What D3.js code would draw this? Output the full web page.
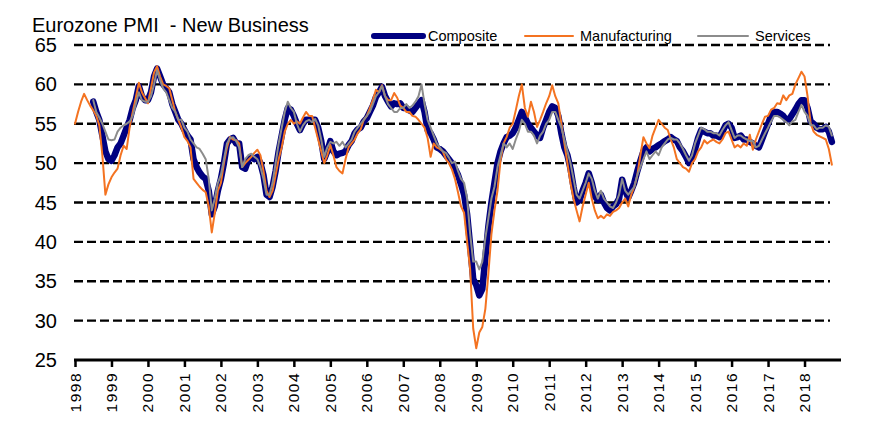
<!DOCTYPE html>
<html>
<head>
<meta charset="utf-8">
<script src="https://cdn.jsdelivr.net/npm/d3@7"></script>
<style>
  html, body { margin: 0; padding: 0; background: #fff; }
  text { font-family: "Liberation Sans", Arial, sans-serif; fill: #000; }
</style>
</head>
<body>
<svg id="chart" width="885" height="425"></svg>
<script>
// ---- data (monthly index readings) ----
const title = "Eurozone PMI  - New Business";
const seriesNames = ["Composite", "Manufacturing", "Services"];
const yearTicks = d3.range(1998, 2019);
const yTicks = [25, 30, 35, 40, 45, 50, 55, 60, 65];

// Composite: Jul 1998 .. Oct 2018
const compositeStart = [1998, 7];
const composite = [
  57.8, 56.5, 55.5, 53.5, 51.5, 50.5,
  50.3, 51.0, 52.0, 52.5, 53.5, 54.5, 55.5, 57.0, 58.0, 59.8, 58.5, 58.0,
  58.0, 59.0, 61.0, 62.0, 61.0, 60.0, 59.5, 59.0, 57.5, 56.5, 55.5, 55.0,
  54.2, 53.5, 53.0, 50.5, 49.5, 48.8, 48.3, 48.0, 46.5, 43.5, 44.5, 46.5,
  48.0, 50.0, 52.5, 53.0, 53.2, 52.5, 52.5, 49.5, 49.3, 50.4, 50.8, 50.5,
  50.8, 50.0, 48.5, 46.0, 45.7, 47.0, 49.0, 51.5, 53.5, 55.5, 57.0, 56.8,
  56.0, 55.0, 54.2, 55.0, 55.5, 55.5, 55.5, 55.5, 54.5, 52.8, 50.5, 51.5,
  52.8, 51.5, 51.0, 51.2, 51.3, 51.5, 52.3, 52.8, 53.8, 54.3, 54.5, 55.3,
  55.7, 56.5, 57.3, 58.4, 59.0, 59.7, 58.5, 57.8, 57.2, 57.6, 57.5, 57.6,
  57.0, 57.0, 56.7, 56.5, 57.0, 57.5, 58.0, 56.5, 54.2, 53.8, 53.0, 52.0,
  51.8, 51.5, 51.0, 50.5, 50.0, 49.3, 48.5, 47.3, 46.0, 43.5, 39.5, 35.3,
  34.5, 33.2, 34.0, 38.0, 42.0, 45.0, 47.5, 50.0, 51.5, 52.5, 53.3, 53.5,
  53.8, 54.5, 55.5, 56.5, 55.8, 55.0, 54.5, 54.0, 53.5, 53.2, 54.5, 55.5,
  56.5, 57.2, 57.0, 56.0, 53.8, 52.0, 51.0, 49.3, 47.0, 45.0, 45.3, 46.5,
  47.5, 48.7, 47.5, 45.8, 45.3, 46.0, 45.0, 44.3, 44.0, 44.5, 44.8, 45.5,
  47.9, 46.5, 45.6, 46.5, 47.5, 49.0, 50.3, 51.5, 52.0, 51.5, 51.8, 52.0,
  52.3, 52.5, 52.8, 53.0, 53.3, 53.0, 52.8, 52.0, 51.5, 50.8, 50.0, 50.5,
  51.8, 53.2, 54.2, 54.0, 53.8, 53.8, 53.5, 53.5, 53.3, 54.0, 54.8, 55.0,
  54.5, 53.2, 53.3, 53.5, 53.0, 53.0, 52.7, 52.5, 52.2, 52.0, 53.0, 54.0,
  55.0, 56.0, 56.5, 56.5, 56.3, 56.0, 55.5, 55.6, 56.2, 56.8, 57.5, 58.0,
  58.0, 57.0, 55.3, 55.0, 54.5, 54.3, 54.3, 54.6, 54.0, 52.7
];

// Manufacturing: Jan 1998 .. Oct 2018
const manufacturingStart = [1998, 1];
const manufacturing = [
  55.0, 56.5, 57.8, 58.8, 58.0, 57.3, 56.7, 56.0, 54.8, 51.0, 46.0, 47.3,
  48.2, 48.8, 49.3, 51.0, 52.2, 51.8, 54.6, 56.5, 58.3, 60.2, 59.0, 58.3,
  57.6, 59.5, 61.5, 62.3, 61.0, 60.0, 59.8, 59.5, 58.0, 56.5, 55.5, 54.5,
  53.3, 52.8, 52.0, 48.0, 47.5, 47.0, 46.6, 46.3, 44.5, 41.2, 43.7, 46.5,
  47.5, 50.0, 52.0, 53.3, 53.0, 52.9, 52.5, 49.5, 50.0, 50.4, 50.8, 51.3,
  51.7, 51.0, 49.0, 46.5, 45.7, 46.5, 48.5, 50.5, 52.0, 54.0, 55.0, 55.5,
  55.0, 55.3, 55.0, 55.8, 56.5, 56.0, 56.0, 54.5, 53.0, 51.5, 50.0, 51.0,
  52.3, 51.0, 49.5, 49.0, 48.7, 50.5, 52.0, 52.5, 53.0, 53.8, 54.3, 55.5,
  56.0, 57.0, 58.0, 59.3, 59.0, 59.9, 58.5, 58.0, 58.0, 58.9, 58.3, 57.3,
  57.0, 56.5, 56.5, 56.0, 55.9, 55.5, 55.0, 54.5, 53.2, 50.8, 52.5, 52.0,
  51.8, 51.5, 50.5, 50.0, 49.2, 48.0, 46.3, 44.5, 43.7, 40.0, 36.5, 29.0,
  26.5, 28.5, 29.2, 31.5, 36.0, 41.0, 44.0, 46.5, 50.4, 52.5, 53.3, 54.5,
  55.0, 56.7, 58.5, 60.0, 57.0, 55.9, 57.8, 56.5, 54.6, 55.5, 56.5, 57.6,
  58.5, 59.9, 58.5, 57.6, 55.0, 52.5, 50.0, 47.5, 45.5, 44.0, 42.6, 44.5,
  46.0, 47.5, 45.5, 44.0, 43.0, 43.3, 43.0, 43.5, 43.3, 43.8, 44.0, 44.3,
  45.0, 45.5, 44.5, 46.0, 47.0, 48.5, 51.0, 53.3, 52.5, 51.9, 53.5, 54.5,
  55.5, 55.0, 54.5, 54.2, 53.0, 52.0, 50.5, 50.0, 49.5, 49.3, 48.9, 50.0,
  50.5, 51.5, 52.0, 52.9, 52.5, 52.8, 53.0, 52.7, 52.5, 53.0, 53.8, 54.0,
  53.0, 52.0, 52.3, 52.0, 52.5, 52.2, 53.6, 51.7, 53.0, 54.0, 55.0, 55.9,
  56.0, 56.8, 57.0, 57.6, 57.5, 58.6, 58.0, 58.6, 58.8, 60.0, 60.8, 61.6,
  61.0, 58.5, 55.1, 54.0, 53.6, 53.4, 53.2, 53.0, 51.8, 49.8
];

// Services: Jul 1998 .. Oct 2018
const servicesStart = [1998, 7];
const services = [
  58.0, 56.5, 55.8, 55.0, 54.0, 53.0,
  52.9, 53.0, 54.0, 54.5, 54.8, 55.0, 55.3, 56.0, 57.5, 59.0, 58.0, 57.8,
  57.8, 58.5, 60.0, 61.8, 60.5, 59.5, 59.0, 58.0, 57.0, 56.5, 55.5, 55.5,
  54.5, 54.0, 53.0, 52.5, 52.0, 51.8, 51.2, 50.5, 48.0, 44.0, 45.5, 47.5,
  48.5, 50.5, 52.5, 53.2, 53.3, 52.8, 52.0, 49.5, 50.5, 51.0, 51.2, 50.8,
  50.5, 49.5, 48.0, 46.0, 46.0, 47.5, 50.0, 52.5, 54.5, 56.5, 57.8, 57.0,
  56.5, 55.0, 54.0, 54.8, 55.3, 55.5, 55.2, 55.6, 54.8, 53.0, 50.8, 52.0,
  52.7, 52.5, 52.7, 52.2, 52.7, 52.0, 52.5, 53.0, 54.0, 54.5, 55.0, 55.5,
  56.0, 56.5, 57.5, 58.5, 59.0, 59.8, 58.5, 57.5, 57.0, 56.5, 56.5, 57.0,
  57.0, 57.5, 57.0, 57.3, 57.8, 58.5, 60.0, 57.5, 55.5, 54.5, 53.5, 52.5,
  52.0, 51.5, 51.3, 50.7, 50.0, 50.2, 49.0, 48.0, 47.5, 45.5, 41.0, 37.5,
  37.5, 36.5, 37.5, 40.5, 43.0, 45.5, 47.0, 49.5, 51.0, 52.5, 52.0, 52.5,
  51.8, 53.0, 54.0, 55.5, 55.0, 54.0, 54.0, 53.5, 52.5, 53.5, 54.0, 55.0,
  55.5, 56.5, 56.5, 55.5, 54.5, 53.0, 51.5, 50.0, 48.0, 46.0, 45.5, 46.5,
  47.5, 48.7, 48.0, 46.5, 45.5, 46.5, 45.5, 45.0, 44.5, 44.3, 45.0, 46.0,
  48.0, 46.5, 46.0, 46.5, 47.0, 48.5, 49.5, 50.5, 51.5, 50.5, 51.0, 51.5,
  51.0, 52.0, 52.5, 53.0, 53.2, 53.0, 53.0, 52.5, 51.8, 51.0, 50.3, 51.0,
  52.5, 53.5, 54.5, 54.3, 54.0, 54.0, 53.8, 53.8, 53.5, 54.2, 54.8, 55.2,
  54.2, 53.2, 53.5, 53.5, 53.2, 53.0, 52.8, 52.8, 52.0, 52.2, 53.0, 53.8,
  54.5, 55.3, 56.0, 56.0, 55.8, 55.5, 55.2, 54.8, 55.3, 55.5, 56.5, 57.4,
  56.5, 56.0, 54.8, 54.8, 54.3, 54.5, 54.5, 54.8, 54.6, 53.5
];

// ---- drawing ----
const svg = d3.select("#chart");
const x = d3.scaleLinear().domain([1998, 2019]).range([75, 841]);
const y = d3.scaleLinear().domain([25, 65]).range([360, 45]);

function toPoints(values, start) {
  return values.map((v, i) => ({ t: start[0] + (start[1] - 1 + i) / 12, v }));
}

// gridlines
svg.append("g").selectAll("line")
  .data(yTicks.filter(d => d > 25))
  .join("line")
  .attr("x1", 74).attr("x2", 830)
  .attr("y1", d => y(d)).attr("y2", d => y(d))
  .attr("stroke", "#000").attr("stroke-width", 2.3)
  .attr("stroke-dasharray", "9,4");

// y tick labels
svg.append("g").selectAll("text")
  .data(yTicks)
  .join("text")
  .attr("x", 57).attr("y", d => y(d))
  .attr("text-anchor", "end")
  .attr("dominant-baseline", "central")
  .attr("font-size", 20)
  .text(d => d);

// x axis
const xAxis = d3.axisBottom(x).tickValues(yearTicks).tickSize(7).tickFormat("");
const gx = svg.append("g").attr("transform", `translate(0,${y(25)})`).call(xAxis);
gx.select(".domain").attr("d", `M74,0H841`).attr("stroke", "#000").attr("stroke-width", 3);
gx.selectAll(".tick line").attr("stroke", "#000").attr("stroke-width", 2.5);

svg.append("g").selectAll("text")
  .data(yearTicks)
  .join("text")
  .attr("transform", d => `translate(${x(d)},372) rotate(-90)`)
  .attr("text-anchor", "end")
  .attr("dominant-baseline", "central")
  .attr("font-size", 15.5)
  .attr("letter-spacing", 1.5)
  .text(d => d);

// series
const line = d3.line().x(d => x(d.t)).y(d => y(d.v));
const specs = [
  { data: toPoints(composite, compositeStart), color: "#000080", width: 6.5 },
  { data: toPoints(manufacturing, manufacturingStart), color: "#f47321", width: 2 },
  { data: toPoints(services, servicesStart), color: "#8c8c8c", width: 2 }
];
specs.forEach(s => {
  svg.append("path")
    .datum(s.data)
    .attr("d", line)
    .attr("fill", "none")
    .attr("stroke", s.color)
    .attr("stroke-width", s.width)
    .attr("stroke-linejoin", "round")
    .attr("stroke-linecap", "round");
});

// title
svg.append("text")
  .attr("x", 32).attr("y", 32)
  .attr("font-size", 20)
  .style("white-space", "pre")
  .text(title);

// legend
const legend = [
  { name: seriesNames[0], x1: 374, x2: 423, tx: 428, color: "#000080", width: 6 },
  { name: seriesNames[1], x1: 525, x2: 573, tx: 580, color: "#f47321", width: 2 },
  { name: seriesNames[2], x1: 698, x2: 748, tx: 755, color: "#8c8c8c", width: 2 }
];
const lg = svg.append("g");
legend.forEach(l => {
  lg.append("line").attr("x1", l.x1).attr("x2", l.x2).attr("y1", 36).attr("y2", 36)
    .attr("stroke", l.color).attr("stroke-width", l.width).attr("stroke-linecap", "round");
  lg.append("text").attr("x", l.tx).attr("y", 36)
    .attr("dominant-baseline", "central").attr("font-size", 14.5)
    .text(l.name);
});
</script>
</body>
</html>
